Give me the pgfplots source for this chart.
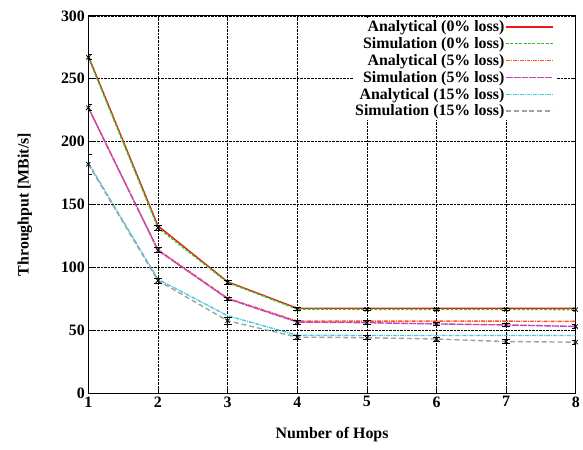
\documentclass[border=0pt]{standalone}
\usepackage{fontspec}
\setmainfont{Liberation Serif}
\usepackage{pgfplots}
\pgfplotsset{compat=1.18}
\definecolor{cRed}{RGB}{240,20,20}
\definecolor{cGreen}{RGB}{60,190,50}
\definecolor{cOrange}{RGB}{255,80,30}
\definecolor{cPurple}{RGB}{190,70,190}
\definecolor{cCyan}{RGB}{70,200,225}
\definecolor{cGray}{RGB}{160,160,160}

\pgfplotstableread{
x an0 sim0 e0 an5 sim5 e5 an15 sim15 e15
1 268 267 2 227 227 2.5 183 182 8
2 133 131.5 2 114 113.5 2 90.5 89.5 2
3 88.5 88 1.5 75.5 75 1.5 61.5 57.5 2.5
4 67.5 66.8 1 57.2 56.5 1.5 46 44.5 1.5
5 67.5 66.6 1 57.2 56 1.5 45.8 44 1.5
6 67.5 66.5 1 57.2 55 1.5 45.8 43 1.5
7 67.5 66.5 1 57.2 54.2 1.5 45.8 41 1.5
8 67.5 66.4 1 57 53 1.5 45.8 40.5 1.5
}\data

\begin{document}
\begin{tikzpicture}
\begin{axis}[
  name=ax,
  scale only axis, width=491pt, height=380pt,
  xmin=1, xmax=8, ymin=0, ymax=300,
  xtick={1,...,8}, ytick={0,50,...,300},
  font=\fontsize{16}{18}\selectfont\bfseries,
  /pgf/number format/assume math mode=true,
  xlabel={Number of Hops}, ylabel={Throughput [MBit/s]},
  xlabel style={at={(axis description cs:0.5,-0.11)}, anchor=center},
  ylabel style={at={(axis description cs:-0.13,0.5)}, anchor=center},
  grid=major, grid style={black, densely dotted, line width=0.6pt},
  axis line style={line width=1pt},
  tick align=inside, tick style={black, line width=0.6pt}, major tick length=5pt,
  legend style={draw=none, fill=white, font=\fontsize{16}{17}\selectfont\bfseries,
    row sep=3.2pt, inner sep=2pt, nodes={inner sep=0.6pt},
    at={(0.96,0.995)}, anchor=north east},
  legend plot pos=right, legend cell align=right,
  legend image code/.code={\draw[#1, line width=1.5pt] (3pt,0pt) -- (51pt,0pt);},
]
\addplot[cRed, line width=1.4pt] table[x=x,y=an0] {\data};
\addlegendentry{Analytical (0\% loss)}
\addplot[cGreen, line width=1.4pt, dash pattern=on 3pt off 1.5pt] table[x=x,y=sim0] {\data};
\addlegendentry{Simulation (0\% loss)}
\addplot[cOrange, line width=1.4pt, dash pattern=on 4pt off 1pt on 1pt off 1pt] table[x=x,y=an5] {\data};
\addlegendentry{Analytical (5\% loss)}
\addplot[cPurple, line width=1.4pt, dash pattern=on 7pt off 1pt] table[x=x,y=sim5] {\data};
\addlegendentry{Simulation (5\% loss)}
\addplot[cCyan, line width=1.4pt, dash pattern=on 4pt off 1pt on 1pt off 1pt] table[x=x,y=an15] {\data};
\addlegendentry{Analytical (15\% loss)}
\addplot[cGray, line width=1.4pt, dash pattern=on 5pt off 3pt] table[x=x,y=sim15] {\data};
\addlegendentry{Simulation (15\% loss)}
% error bars on the simulation points
\addplot[forget plot, black, only marks, mark=x, mark size=3pt, line width=0.8pt,
  error bars/.cd, y dir=both, y explicit, error mark options={rotate=90, mark size=4pt, line width=0.8pt}]
  table[x=x, y=sim0, y error=e0] {\data};
\addplot[forget plot, black, only marks, mark=x, mark size=3pt, line width=0.8pt,
  error bars/.cd, y dir=both, y explicit, error mark options={rotate=90, mark size=4pt, line width=0.8pt}]
  table[x=x, y=sim5, y error=e5] {\data};
\addplot[forget plot, black, only marks, mark=x, mark size=3pt, line width=0.8pt,
  error bars/.cd, y dir=both, y explicit, error mark options={rotate=90, mark size=4pt, line width=0.8pt}]
  table[x=x, y=sim15, y error=e15] {\data};
\end{axis}
% page margins as in the reference
\path ([xshift=-89pt,yshift=16pt]ax.north west) ([yshift=-57pt]ax.south east);
\end{tikzpicture}
\end{document}
